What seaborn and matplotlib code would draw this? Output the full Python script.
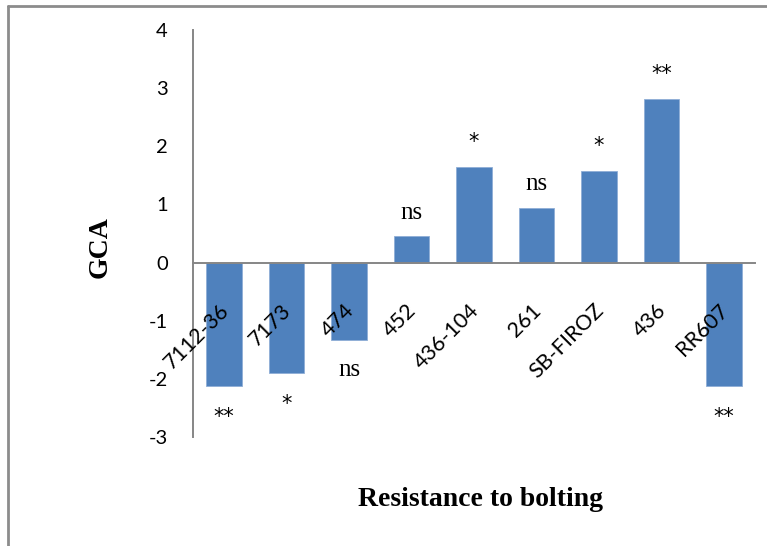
import matplotlib
matplotlib.use("Agg")
import matplotlib.pyplot as plt
import matplotlib.transforms as mtransforms
from matplotlib.lines import Line2D
import seaborn as sns
import pandas as pd

# GCA values for resistance to bolting
lines = ["7112-36", "7173", "474", "452", "436-104", "261", "SB-FIROZ", "436", "RR607"]
gca = [-2.13, -1.90, -1.34, 0.45, 1.64, 0.94, 1.57, 2.82, -2.13]
signif = ["**", "*", "ns", "ns", "*", "ns", "*", "**", "**"]
yticks = [-3, -2, -1, 0, 1, 2, 3, 4]

sns.set_theme(style="white")
plt.rcParams['font.family'] = ['Lato', 'DejaVu Sans']
plt.rcParams['text.color'] = 'black'

df = pd.DataFrame({"line": lines, "gca": gca})

W, H = 767, 546
fig = plt.figure(figsize=(W / 100, H / 100), dpi=100)
ax = fig.add_axes([193 / W, 1 - 437 / H, (755 - 193) / W, (437 - 30) / H])

sns.barplot(data=df, x="line", y="gca", color="#4F81BD", saturation=1,
            width=0.57, edgecolor="#8FAED6", linewidth=0.6, ax=ax)
ax.set_axisbelow(False)  # labels and zero line drawn over the bars

ax.set_xlim(-0.5, len(lines) - 0.5)
ax.set_ylim(-3, 4)
ax.set_yticks(yticks)
ax.set_yticklabels([str(t) for t in yticks])

# axis lines like the spreadsheet: y axis at left, category axis through zero
for side in ["top", "right"]:
    ax.spines[side].set_visible(False)
ax.spines["bottom"].set_position(("data", 0))
for side in ["left", "bottom"]:
    ax.spines[side].set_color("#868686")
    ax.spines[side].set_linewidth(1.4)

ax.tick_params(axis="both", length=0, labelcolor="black")
ax.tick_params(axis="y", pad=18, labelsize=14.5)
ax.tick_params(axis="x", pad=27, labelsize=15.5)
ax.set_xticks(range(len(lines)))
ax.set_xticklabels(lines, rotation=45, ha="right", va="top", rotation_mode="anchor")
shift = mtransforms.ScaledTranslation(-4 / 72, 0, fig.dpi_scale_trans)
for lab in ax.get_xticklabels():
    lab.set_transform(lab.get_transform() + shift)

# significance marks above/below bars
for i, (v, s) in enumerate(zip(gca, signif)):
    if s == "ns":
        fam, size = ["Liberation Serif"], 18
        off = 17 if v >= 0 else -21
    else:
        fam, size = ["DejaVu Sans"], 15
        off = 18 if v >= 0 else -22
    ax.annotate(s, xy=(i, v), xytext=(0, off), textcoords="offset points",
                ha="center", va="center", fontsize=size, family=fam, color="black")

ax.set_xlabel("")
ax.set_ylabel("")
fig.text(100 / W, 1 - 247 / H, "GCA", rotation=90, ha="center", va="center",
         fontsize=20, fontweight="bold", family=["Liberation Serif"])
fig.text(481 / W, 1 - 500 / H, "Resistance to bolting", ha="center", va="center",
         fontsize=20, fontweight="bold", family=["Liberation Serif"])

# chart area border (only top and left edges show in the crop)
fig.add_artist(Line2D([8 / W, 8 / W], [0, 1 - 6 / H], transform=fig.transFigure,
                      color="#8C8C8C", linewidth=2))
fig.add_artist(Line2D([8 / W, 1], [1 - 6 / H, 1 - 6 / H], transform=fig.transFigure,
                      color="#8C8C8C", linewidth=2))

fig.savefig("out.png", dpi=100)
